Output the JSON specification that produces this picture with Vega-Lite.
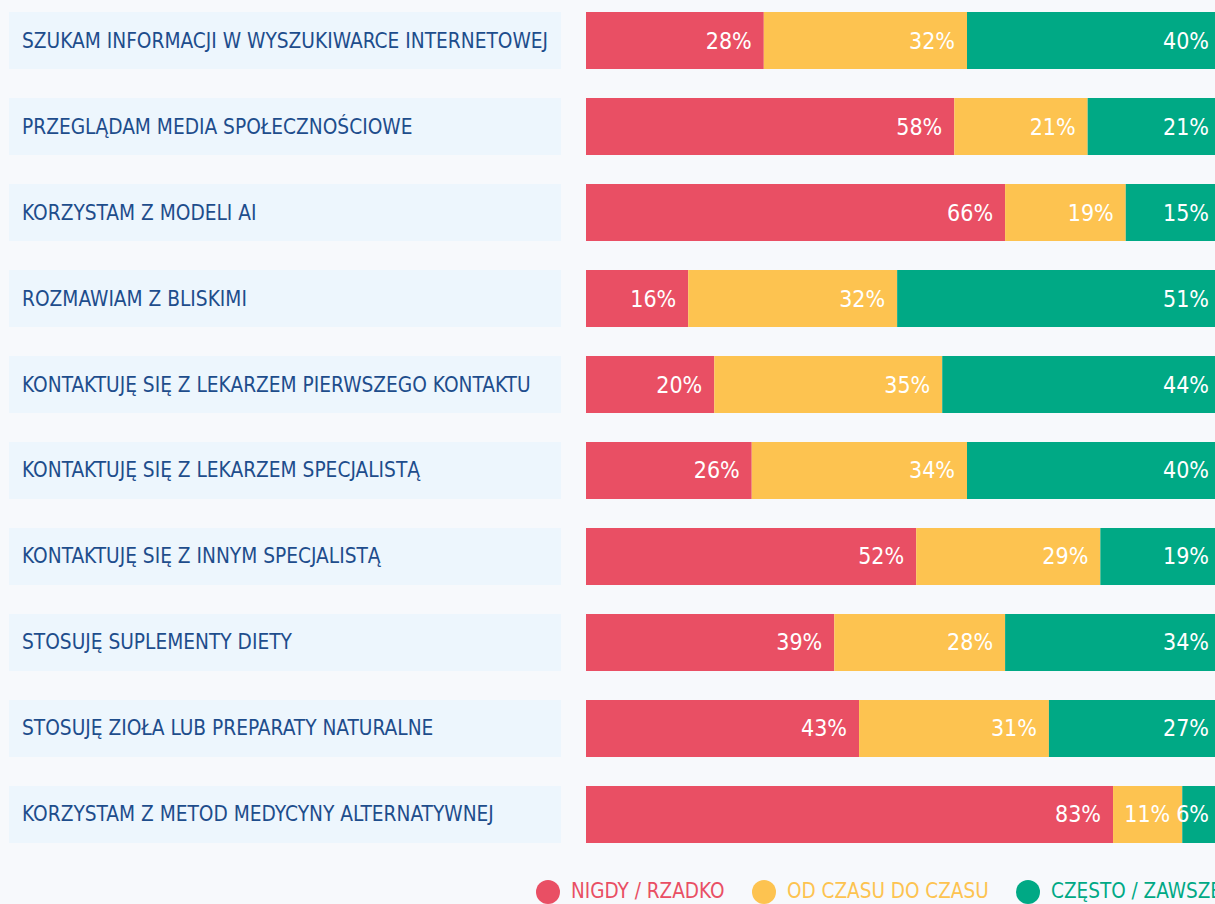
{
  "$schema": "https://vega.github.io/schema/vega-lite/v6.json",
  "background": "#F7F9FC",
  "padding": {"left": 9, "top": 12, "right": 0, "bottom": 0},
  "bounds": "flush",
  "config": {"view": {"stroke": null}, "font": "DejaVu Sans Condensed, Liberation Sans Narrow, Roboto"},
  "data": {
    "values": [
      {"item": "SZUKAM INFORMACJI W WYSZUKIWARCE INTERNETOWEJ", "cat": "NIGDY / RZADKO", "pct": 28, "label": "28%"},
      {"item": "SZUKAM INFORMACJI W WYSZUKIWARCE INTERNETOWEJ", "cat": "OD CZASU DO CZASU", "pct": 32, "label": "32%"},
      {"item": "SZUKAM INFORMACJI W WYSZUKIWARCE INTERNETOWEJ", "cat": "CZĘSTO / ZAWSZE", "pct": 40, "label": "40%"},
      {"item": "PRZEGLĄDAM MEDIA SPOŁECZNOŚCIOWE", "cat": "NIGDY / RZADKO", "pct": 58, "label": "58%"},
      {"item": "PRZEGLĄDAM MEDIA SPOŁECZNOŚCIOWE", "cat": "OD CZASU DO CZASU", "pct": 21, "label": "21%"},
      {"item": "PRZEGLĄDAM MEDIA SPOŁECZNOŚCIOWE", "cat": "CZĘSTO / ZAWSZE", "pct": 21, "label": "21%"},
      {"item": "KORZYSTAM Z MODELI AI", "cat": "NIGDY / RZADKO", "pct": 66, "label": "66%"},
      {"item": "KORZYSTAM Z MODELI AI", "cat": "OD CZASU DO CZASU", "pct": 19, "label": "19%"},
      {"item": "KORZYSTAM Z MODELI AI", "cat": "CZĘSTO / ZAWSZE", "pct": 15, "label": "15%"},
      {"item": "ROZMAWIAM Z BLISKIMI", "cat": "NIGDY / RZADKO", "pct": 16.1, "label": "16%"},
      {"item": "ROZMAWIAM Z BLISKIMI", "cat": "OD CZASU DO CZASU", "pct": 32.9, "label": "32%"},
      {"item": "ROZMAWIAM Z BLISKIMI", "cat": "CZĘSTO / ZAWSZE", "pct": 51, "label": "51%"},
      {"item": "KONTAKTUJĘ SIĘ Z LEKARZEM PIERWSZEGO KONTAKTU", "cat": "NIGDY / RZADKO", "pct": 20.2, "label": "20%"},
      {"item": "KONTAKTUJĘ SIĘ Z LEKARZEM PIERWSZEGO KONTAKTU", "cat": "OD CZASU DO CZASU", "pct": 35.9, "label": "35%"},
      {"item": "KONTAKTUJĘ SIĘ Z LEKARZEM PIERWSZEGO KONTAKTU", "cat": "CZĘSTO / ZAWSZE", "pct": 43.9, "label": "44%"},
      {"item": "KONTAKTUJĘ SIĘ Z LEKARZEM SPECJALISTĄ", "cat": "NIGDY / RZADKO", "pct": 26.1, "label": "26%"},
      {"item": "KONTAKTUJĘ SIĘ Z LEKARZEM SPECJALISTĄ", "cat": "OD CZASU DO CZASU", "pct": 33.9, "label": "34%"},
      {"item": "KONTAKTUJĘ SIĘ Z LEKARZEM SPECJALISTĄ", "cat": "CZĘSTO / ZAWSZE", "pct": 40, "label": "40%"},
      {"item": "KONTAKTUJĘ SIĘ Z INNYM SPECJALISTĄ", "cat": "NIGDY / RZADKO", "pct": 52, "label": "52%"},
      {"item": "KONTAKTUJĘ SIĘ Z INNYM SPECJALISTĄ", "cat": "OD CZASU DO CZASU", "pct": 29, "label": "29%"},
      {"item": "KONTAKTUJĘ SIĘ Z INNYM SPECJALISTĄ", "cat": "CZĘSTO / ZAWSZE", "pct": 19, "label": "19%"},
      {"item": "STOSUJĘ SUPLEMENTY DIETY", "cat": "NIGDY / RZADKO", "pct": 39.1, "label": "39%"},
      {"item": "STOSUJĘ SUPLEMENTY DIETY", "cat": "OD CZASU DO CZASU", "pct": 26.9, "label": "28%"},
      {"item": "STOSUJĘ SUPLEMENTY DIETY", "cat": "CZĘSTO / ZAWSZE", "pct": 34, "label": "34%"},
      {"item": "STOSUJĘ ZIOŁA LUB PREPARATY NATURALNE", "cat": "NIGDY / RZADKO", "pct": 43, "label": "43%"},
      {"item": "STOSUJĘ ZIOŁA LUB PREPARATY NATURALNE", "cat": "OD CZASU DO CZASU", "pct": 29.9, "label": "31%"},
      {"item": "STOSUJĘ ZIOŁA LUB PREPARATY NATURALNE", "cat": "CZĘSTO / ZAWSZE", "pct": 27.1, "label": "27%"},
      {"item": "KORZYSTAM Z METOD MEDYCYNY ALTERNATYWNEJ", "cat": "NIGDY / RZADKO", "pct": 83, "label": "83%"},
      {"item": "KORZYSTAM Z METOD MEDYCYNY ALTERNATYWNEJ", "cat": "OD CZASU DO CZASU", "pct": 10.9, "label": "11%"},
      {"item": "KORZYSTAM Z METOD MEDYCYNY ALTERNATYWNEJ", "cat": "CZĘSTO / ZAWSZE", "pct": 6.1, "label": "6%"}
    ]
  },
  "spacing": 25,
  "hconcat": [
    {
      "width": 552,
      "height": 831,
      "transform": [{"filter": "datum.cat === 'NIGDY / RZADKO'"}],
      "encoding": {
        "y": {"field": "item", "type": "nominal", "sort": null, "axis": null, "scale": {"paddingInner": 0.337, "paddingOuter": 0}}
      },
      "layer": [
        {
          "mark": {"type": "bar", "color": "#EDF6FD"},
          "encoding": {
            "x": {"datum": 0, "type": "quantitative", "scale": {"domain": [0, 1], "nice": false, "zero": false}, "axis": null},
            "x2": {"datum": 1}
          }
        },
        {
          "mark": {"type": "text", "align": "left", "baseline": "middle", "dx": 13, "dy": 1, "fontSize": 20.7, "color": "#1E4D8C"},
          "encoding": {
            "x": {"datum": 0, "type": "quantitative"},
            "text": {"field": "item"}
          }
        }
      ]
    },
    {
      "width": 635,
      "height": 831,
      "transform": [{"stack": "pct", "groupby": ["item"], "as": ["x0", "x1"]}],
      "encoding": {
        "y": {"field": "item", "type": "nominal", "sort": null, "axis": null, "scale": {"paddingInner": 0.337, "paddingOuter": 0}}
      },
      "layer": [
        {
          "mark": {"type": "bar"},
          "encoding": {
            "x": {"field": "x0", "type": "quantitative", "scale": {"domain": [0, 100], "nice": false}, "axis": null},
            "x2": {"field": "x1"},
            "color": {
              "field": "cat",
              "type": "nominal",
              "scale": {"domain": ["NIGDY / RZADKO", "OD CZASU DO CZASU", "CZĘSTO / ZAWSZE"], "range": ["#E94F64", "#FDC350", "#00A985"]},
              "legend": {
                "title": null,
                "orient": "none",
                "legendX": 527,
                "legendY": 868,
                "direction": "horizontal",
                "symbolType": "circle",
                "symbolSize": 576,
                "symbolStrokeWidth": 0,
                "symbolOpacity": 1,
                "labelFontSize": 20.5,
                "labelOffset": 11,
                "columnPadding": 27,
                "padding": 0,
                "labelLimit": 400,
                "encoding": {
                  "labels": {
                    "fill": {
                      "condition": [
                        {"test": "datum.value === 'NIGDY / RZADKO'", "value": "#E94F64"},
                        {"test": "datum.value === 'OD CZASU DO CZASU'", "value": "#FDC350"}
                      ],
                      "value": "#00A985"
                    }
                  }
                }
              }
            }
          }
        },
        {
          "mark": {"type": "text", "align": "right", "baseline": "middle", "dx": -12, "dy": 1, "fontSize": 23, "color": "#FFFFFF"},
          "encoding": {
            "x": {"field": "x1", "type": "quantitative"},
            "text": {"field": "label"}
          }
        }
      ]
    }
  ]
}
